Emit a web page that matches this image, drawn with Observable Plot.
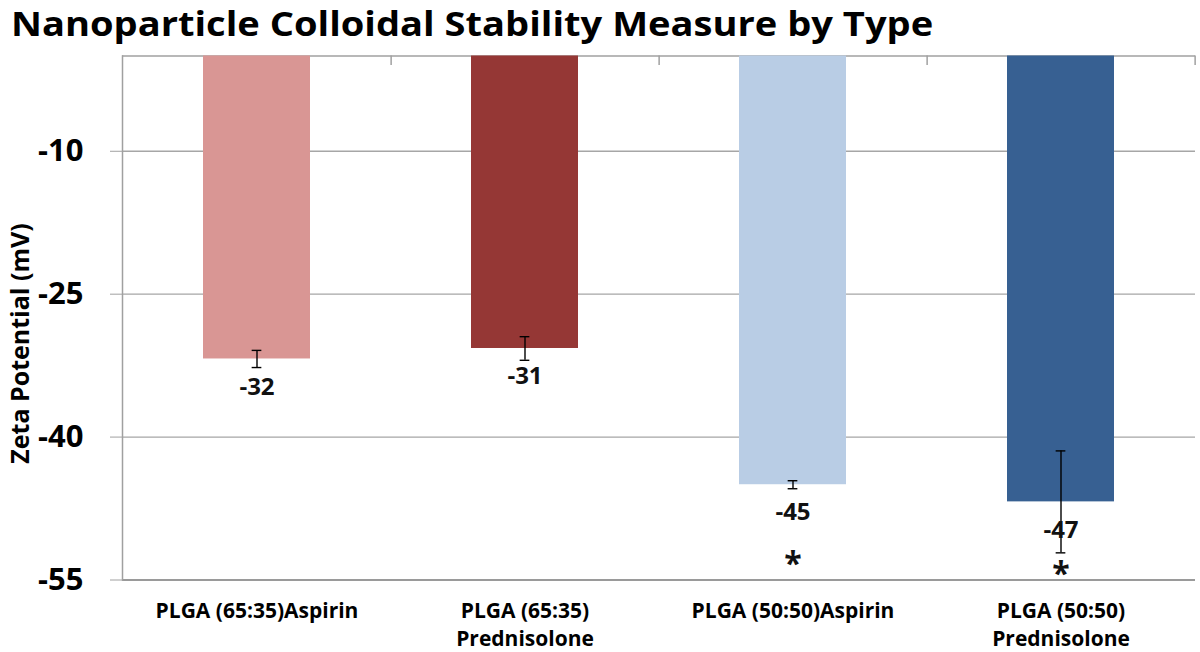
<!DOCTYPE html>
<html><head><meta charset="utf-8">
<script src="https://cdn.jsdelivr.net/npm/d3@7"></script>
<script src="https://cdn.jsdelivr.net/npm/@observablehq/plot@0.6"></script>
<style>
html,body{margin:0;padding:0;background:#fff;overflow:hidden}
#title{height:44px;overflow:visible;line-height:46.3px;font-family:"Open Sans",sans-serif;font-weight:bold;font-size:34px;padding-left:11px;color:#000;white-space:nowrap}
#title span{display:inline-block;transform:scaleX(1.12);transform-origin:0 50%}
#chart svg{display:block}
</style></head><body>
<div id="title"><span>Nanoparticle Colloidal Stability Measure by Type</span></div>
<div id="chart"></div>
<script>
const categories = ["PLGA (65:35)Aspirin", "PLGA (65:35)\nPrednisolone", "PLGA (50:50)Aspirin", "PLGA (50:50)\nPrednisolone"];
const zeta = [-31.8, -30.7, -45.0, -46.8];
const zetaError = [0.9, 1.24, 0.42, 5.35];
const valueLabels = ["-32", "-31", "-45", "-47"];
const barColors = ["#D99694", "#953735", "#B9CDE5", "#376092"];
const significanceLevel = [null, null, -52.7, -53.7];
const yTicks = [-10, -25, -40, -55];
const yDomain = [-55, 0];

const W = 1200, H = 608, ML = 122, MR = 5, MT = 11.5, MB = 72.5;
const step = (W - ML - MR) / categories.length;
const bandwidth = step * 0.4;
const capWidth = 10;
const font = "'Open Sans', sans-serif";

const rows = categories.map((c, i) => ({category: c, value: zeta[i], err: zetaError[i], label: valueLabels[i], star: significanceLevel[i]}));

const chart = Plot.plot({
  width: W, height: H,
  marginLeft: ML, marginRight: MR, marginTop: MT, marginBottom: MB,
  style: {fontFamily: font, fontWeight: "bold", background: "transparent", color: "#000"},
  x: {type: "band", domain: categories, paddingInner: 0.6, paddingOuter: 0.3, align: 0.5},
  y: {domain: yDomain},
  color: {domain: categories, range: barColors},
  marks: [
    Plot.ruleY(yTicks.slice(0, 3), {stroke: "#a6a6a6", strokeWidth: 1.3}),
    Plot.ruleY([0], {stroke: "#a0a0a0", strokeWidth: 1.6}),
    Plot.ruleX(categories, {x: d => d, dx: step / 2, y1: 0, y2: -1, stroke: "#a0a0a0", strokeWidth: 1.5}),
    Plot.barY(rows, {x: "category", y1: 0, y2: "value", fill: "category"}),
    Plot.ruleY([-55], {stroke: "#9a9a9a", strokeWidth: 2}),
    Plot.frame({anchor: "left", stroke: "#a0a0a0", strokeWidth: 1.5}),
    Plot.ruleX(rows, {x: "category", y1: d => d.value - d.err, y2: d => d.value + d.err, stroke: "#000", strokeWidth: 1.4}),
    Plot.tickY(rows, {x: "category", y: d => d.value + d.err, insetLeft: (bandwidth - capWidth) / 2, insetRight: (bandwidth - capWidth) / 2, stroke: "#000", strokeWidth: 1.4}),
    Plot.tickY(rows, {x: "category", y: d => d.value - d.err, insetLeft: (bandwidth - capWidth) / 2, insetRight: (bandwidth - capWidth) / 2, stroke: "#000", strokeWidth: 1.4}),
    Plot.text(rows, {x: "category", y: "value", text: "label", dy: 28, fontSize: 24, fontWeight: "bold", fill: "#111"}),
    Plot.text(rows.filter(d => d.star !== null), {x: "category", y: "star", text: () => "*", dy: 7, fontSize: 32, fontWeight: "bold", fill: "#111"}),
    Plot.axisY(yTicks, {tickSize: 12, tickPadding: 27, tickFormat: d => String(d), fontSize: 31, fontWeight: "bold", stroke: "#a0a0a0", fill: "#000", label: null}),
    Plot.axisX({anchor: "bottom", tickSize: 0, tickPadding: 18, fontSize: 21, fontWeight: "bold", lineHeight: 1.35, label: null, fill: "#000"}),
    Plot.text(["Zeta Potential (mV)"], {frameAnchor: "left", textAnchor: "middle", rotate: -90, dx: -102, dy: 25.5, fontSize: 25, fontWeight: "bold", fill: "#000"})
  ]
});
document.getElementById("chart").appendChild(chart);
</script>
</body></html>
